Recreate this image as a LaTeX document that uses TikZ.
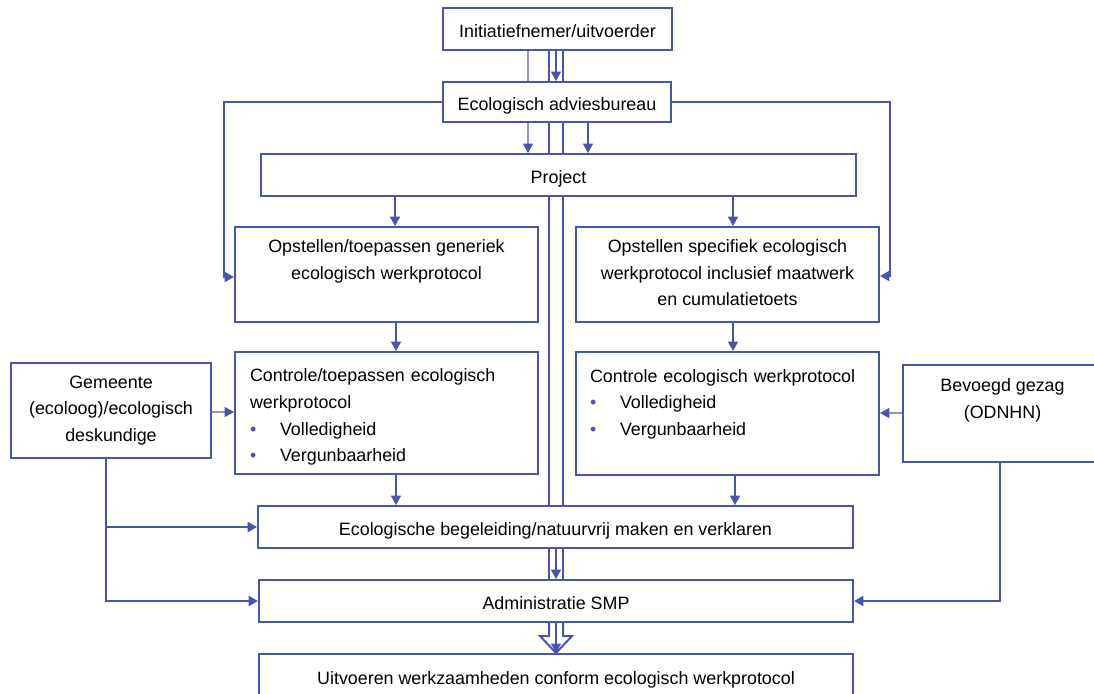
\documentclass[tikz,border=0pt]{standalone}
\usepackage{fontspec}
\setmainfont{Liberation Sans}
\usetikzlibrary{arrows.meta,backgrounds}
\definecolor{lc}{HTML}{4A54A8}
\definecolor{lcl}{HTML}{8D95CF}
\newcommand\bitem[1]{\makebox[22.5pt][l]{\textcolor{lc}{\textbullet}}#1}
\begin{document}
\begin{tikzpicture}[x=0.75pt,y=-0.75pt,
  box/.style={draw=lc,line width=1.5pt,fill=white,inner sep=0pt,
    font=\fontsize{13.4}{20}\selectfont,align=center,text=black,
    execute at begin node={\rule{0pt}{16pt}},
    execute at end node={\rule[-2.8pt]{0pt}{2.8pt}}},
  spot/.style n args={4}{minimum width={(#3-#1)*0.75pt},minimum height={(#4-#2)*0.75pt},
    at={({(#1+#3)/2},{(#2+#4)/2})}},
  tip/.style={-{Triangle[length=7pt,width=7.5pt,color=lc]}},
  conn/.style={draw=lc,line width=0.9pt,tip},
  lconn/.style={draw=lcl,line width=0.9pt,tip},
  route/.style={draw=lc,line width=1.5pt,tip},
  dbl/.style={draw=lc,line width=1.5pt}]
\useasboundingbox (0,0) rectangle (1094,693);

\node[box,spot={443}{8}{672}{50}] (init) {Initiatiefnemer/uitvoerder};
\node[box,spot={443}{82}{671}{122}] (adv) {Ecologisch adviesbureau};
\node[box,spot={261}{154}{856}{196}] (proj) {Project};
\node[box,spot={235}{227}{538}{322}] (gen) {Opstellen/toepassen generiek\\ecologisch werkprotocol\\\mbox{}};
\node[box,spot={576}{227}{879}{322}] (spec) {Opstellen specifiek ecologisch\\werkprotocol inclusief maatwerk\\en cumulatietoets};
\node[box,spot={235}{352}{538}{474},align=left,text width=204.75pt] (ctl) {Controle/toepassen ecologisch\\werkprotocol\\\bitem{Volledigheid}\\\bitem{Vergunbaarheid}};
\node[box,spot={576}{352}{879}{475},align=left,text width=206.25pt] (ctr) {Controle ecologisch werkprotocol\\\bitem{Volledigheid}\\\bitem{Vergunbaarheid}\\\mbox{}};
\node[box,spot={11}{363}{211}{458}] (gem) {Gemeente\\(ecoloog)/ecologisch\\deskundige};
\node[box,spot={903}{365}{1102}{462}] (bev) {Bevoegd gezag\\(ODNHN)\\\mbox{}};
\node[box,spot={258}{506}{853}{548}] (beg) {Ecologische begeleiding/natuurvrij maken en verklaren};
\node[box,spot={259}{580}{853}{622}] (adm) {Administratie SMP};
\node[box,spot={259}{654}{853}{698}] (uit) {Uitvoeren werkzaamheden conform ecologisch werkprotocol};

\begin{scope}[on background layer]
% central double line
\draw[dbl] (549,0 |- init.south) -- (549,0 |- beg.north);
\draw[dbl] (563,0 |- init.south) -- (563,0 |- beg.north);
\draw[conn] (556,0 |- init.south) -- (556,0 |- adv.north);
\draw[dbl] (549,0 |- beg.south) -- (549,0 |- adm.north);
\draw[dbl] (563,0 |- beg.south) -- (563,0 |- adm.north);
\draw[conn] (556,0 |- beg.south) -- (556,0 |- adm.north);
\draw[dbl,fill=white,line join=miter] (549,0 |- adm.south) -- (549,636) -- (540,636) -- (556,0 |- uit.north) -- (572,636) -- (563,636) -- (563,0 |- adm.south);
\draw[conn] (556,0 |- adm.south) -- (556,0 |- uit.north);
% thin links near top
\draw[draw=lcl,line width=0.9pt] (528,0 |- init.south) -- (528,0 |- adv.north);
\draw[lconn] (528,0 |- adv.south) -- (528,0 |- proj.north);
\draw[conn] (588,0 |- adv.south) -- (588,0 |- proj.north);
% side routes from adviesbureau
\draw[route] (adv.west) -- (224,0 |- adv.west) -- (224,277) -- (gen.west |- 224,277);
\draw[route] (adv.east) -- (890,0 |- adv.east) -- (890,276) -- (spec.east |- 890,276);
% vertical flow
\draw[conn] (395,0 |- proj.south) -- (395,0 |- gen.north);
\draw[conn] (733,0 |- proj.south) -- (733,0 |- spec.north);
\draw[conn] (396,0 |- gen.south) -- (396,0 |- ctl.north);
\draw[conn] (733,0 |- spec.south) -- (733,0 |- ctr.north);
\draw[conn] (396,0 |- ctl.south) -- (396,0 |- beg.north);
\draw[conn] (735,0 |- ctr.south) -- (735,0 |- beg.north);
% gemeente
\draw[lconn] (gem.east |- 0,412) -- (ctl.west |- 0,412);
\draw[route] (106,0 |- gem.south) |- (beg.west);
\draw[route] (106,0 |- gem.south) |- (adm.west);
% bevoegd gezag
\draw[lconn] (bev.west |- 0,413) -- (ctr.east |- 0,413);
\draw[route] (1000,0 |- bev.south) |- (adm.east);
\end{scope}
\end{tikzpicture}
\end{document}
